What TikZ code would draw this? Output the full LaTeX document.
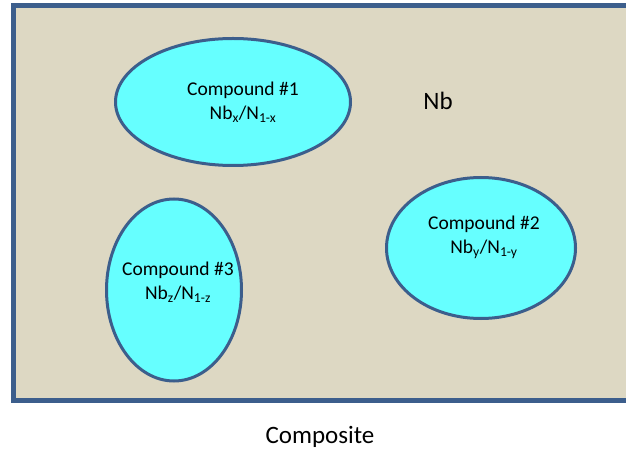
\documentclass[tikz,border=0pt]{standalone}
\usepackage{fontspec}
\setmainfont{Carlito}
\usetikzlibrary{shapes.geometric}
\definecolor{frame}{HTML}{3C5E8C}
\definecolor{beige}{HTML}{DDD8C3}
\definecolor{cyanfill}{HTML}{66FFFF}
\tikzset{
  blob/.style={shape=ellipse, draw=frame, line width=3pt, fill=cyanfill, inner sep=0pt},
  lbl/.style={font=\fontsize{19.5}{24}\selectfont, align=center, text=black, inner sep=0pt},
  big/.style={font=\fontsize{25}{30}\selectfont, text=black, inner sep=0pt}
}
\begin{document}
\begin{tikzpicture}[x=1pt, y=-1pt]
\useasboundingbox (0,0) rectangle (626,454);
\fill[white] (0,0) rectangle (626,454);
\draw[line width=5pt, draw=frame, fill=beige] (13,5.5) rectangle (680,400);
\node[blob, minimum width=235pt, minimum height=127pt] (c1) at (233,102) {};
\node[blob, minimum width=189pt, minimum height=141pt] (c2) at (481,248) {};
\node[blob, minimum width=135pt, minimum height=182pt] (c3) at (174,290) {};
\node[lbl] (t1) at (243,102) {Compound \#1\\Nb\textsubscript{x}/N\textsubscript{1-x}};
\node[lbl] (t2) at (484,237) {Compound \#2\\Nb\textsubscript{y}/N\textsubscript{1-y}};
\node[lbl] (t3) at (178,282) {Compound \#3\\Nb\textsubscript{z}/N\textsubscript{1-z}};
\node[big] (nb) at (438,101) {Nb};
\node[big] (comp) at (320,437) {Composite};
\end{tikzpicture}
\end{document}
